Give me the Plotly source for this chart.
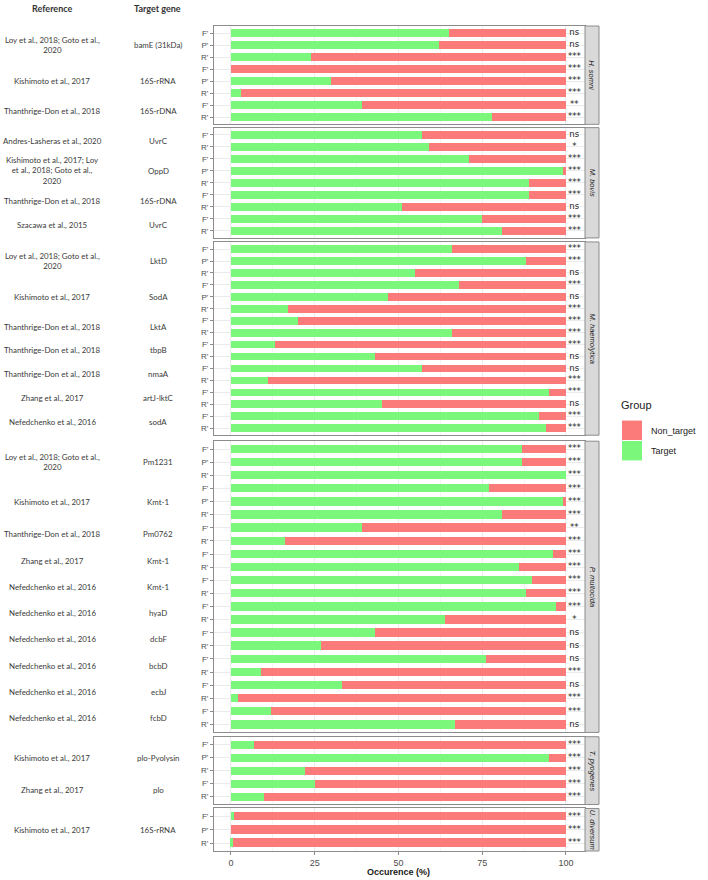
import plotly.graph_objects as go

# ---------------- data ----------------
species = ["H. somni", "M. bovis", "M. haemolytica", "P. multocida", "T. pyogenes", "U. diversum"]

group_species = [0, 0, 0,
                 1, 1, 1, 1,
                 2, 2, 2, 2, 2, 2, 2,
                 3, 3, 3, 3, 3, 3, 3, 3, 3, 3,
                 4, 4,
                 5]

group_reference = [
    "Loy et al., 2018; Goto et al.,<br>2020", "Kishimoto et al., 2017", "Thanthrige-Don et al., 2018",
    "Andres-Lasheras et al., 2020", "Kishimoto et al., 2017; Loy<br>et al., 2018; Goto et al.,<br>2020",
    "Thanthrige-Don et al., 2018", "Szacawa et al., 2015",
    "Loy et al., 2018; Goto et al.,<br>2020", "Kishimoto et al., 2017", "Thanthrige-Don et al., 2018",
    "Thanthrige-Don et al., 2018", "Thanthrige-Don et al., 2018", "Zhang et al., 2017", "Nefedchenko et al., 2016",
    "Loy et al., 2018; Goto et al.,<br>2020", "Kishimoto et al., 2017", "Thanthrige-Don et al., 2018",
    "Zhang et al., 2017", "Nefedchenko et al., 2016", "Nefedchenko et al., 2016", "Nefedchenko et al., 2016",
    "Nefedchenko et al., 2016", "Nefedchenko et al., 2016", "Nefedchenko et al., 2016",
    "Kishimoto et al., 2017", "Zhang et al., 2017",
    "Kishimoto et al., 2017",
]

group_gene = ["bamE (31kDa)", "16S-rRNA", "16S-rDNA",
              "UvrC", "OppD", "16S-rDNA", "UvrC",
              "LktD", "SodA", "LktA", "tbpB", "nmaA", "artJ-lktC", "sodA",
              "Pm1231", "Kmt-1", "Pm0762", "Kmt-1", "Kmt-1", "hyaD", "dcbF", "bcbD", "ecbJ", "fcbD",
              "plo-Pyolysin", "plo",
              "16S-rRNA"]

FPR = ["F'", "P'", "R'"]
FR = ["F'", "R'"]
group_primers = [FPR, FPR, FR,
                 FR, FPR, FR, FR,
                 FPR, FPR, FR, FR, FR, FR, FR,
                 FPR, FPR, FR, FR, FR, FR, FR, FR, FR, FR,
                 FPR, FR,
                 FPR]

# Target occurrence (%) per primer; Non_target = 100 - Target
target_pct = [[65, 62, 24], [0, 30, 3], [39, 78],
              [57, 59], [71, 99, 89], [89, 51], [75, 81],
              [66, 88, 55], [68, 47, 17], [20, 66], [13, 43], [57, 11], [95, 45], [92, 94],
              [87, 87, 100], [77, 99, 81], [39, 16], [96, 86], [90, 88], [97, 64], [43, 27],
              [76, 9], [33, 2], [12, 67],
              [7, 95, 22], [25, 10],
              [1, 0, 0.5]]

significance = [["ns", "ns", "***"], ["***", "***", "***"], ["**", "***"],
                ["ns", "*"], ["***", "***", "***"], ["***", "ns"], ["***", "***"],
                ["***", "***", "ns"], ["***", "ns", "***"], ["***", "***"], ["***", "ns"], ["ns", "***"],
                ["***", "ns"], ["***", "***"],
                ["***", "***", "***"], ["***", "***", "***"], ["**", "***"], ["***", "***"], ["***", "***"],
                ["***", "*"], ["ns", "ns"], ["ns", "***"], ["ns", "***"], ["***", "ns"],
                ["***", "***", "***"], ["***", "***"],
                ["***", "***", "***"]]

group_names = ["Non_target", "Target"]
x_ticks = [0, 25, 50, 75, 100]

# ---------------- styling / geometry ----------------
W, H = 708, 880
ML, MR, MT, MB = 214, 123, 26, 26
PW, PH = W - ML - MR, H - MT - MB
panel_px = [(26, 124.7), (128, 238.7), (242.7, 436.7), (442.7, 735), (739.3, 807.3), (811.3, 854)]
RED, GREEN = "#FB7B7B", "#7BF77B"
BORDER = "#8C8C8C"
TXT = "#4D4D4D"
LEFT_FONT = "Lato"


def fx(p):
    return (p - ML) / PW


def fy(p):
    return 1 - (p - MT) / PH


fig = go.Figure()
annotations = []
shapes = []
layout = {}

for si, sp in enumerate(species):
    ax = "" if si == 0 else str(si + 1)
    gidx = [g for g in range(len(group_species)) if group_species[g] == si]
    prim, tgt, sig = [], [], []
    centers = []
    for g in gidx:
        start = len(prim)
        prim += group_primers[g]
        tgt += target_pct[g]
        sig += significance[g]
        centers.append((g, (start + len(prim) - 1) / 2))
    n = len(prim)
    ys = list(range(n))
    non = [100 - v for v in tgt]

    fig.add_trace(go.Bar(x=tgt, y=ys, base=[0] * n, orientation="h", marker_color=GREEN,
                         marker_line_width=0, width=0.64, name=group_names[1], showlegend=False,
                         xaxis="x" + ax, yaxis="y" + ax))
    fig.add_trace(go.Bar(x=non, y=ys, base=tgt, orientation="h", marker_color=RED,
                         marker_line_width=0, width=0.64, name=group_names[0], showlegend=False,
                         xaxis="x" + ax, yaxis="y" + ax))
    fig.add_trace(go.Scatter(x=[102.5] * n, y=ys, mode="text", text=sig,
                             textfont=dict(size=8.5, color="#1A1A1A", family="DejaVu Sans"),
                             showlegend=False, hoverinfo="skip",
                             xaxis="x" + ax, yaxis="y" + ax))

    top, bot = panel_px[si]
    last = si == len(species) - 1
    layout["xaxis" + ax] = dict(
        domain=[0, 1], anchor="y" + ax, range=[-5.07, 105.7],
        tickvals=x_ticks, showticklabels=last, ticks="outside" if last else "",
        ticklen=3, tickcolor=BORDER, tickfont=dict(size=9, color=TXT, family="Liberation Sans"),
        showgrid=True, gridcolor="#EBEBEB", gridwidth=1, zeroline=False,
        minor=dict(tickvals=[12.5, 37.5, 62.5, 87.5], showgrid=True, gridcolor="#F4F4F4"),
        showline=True, mirror=True, linecolor=BORDER, linewidth=1, fixedrange=True,
    )
    layout["yaxis" + ax] = dict(
        domain=[fy(bot), fy(top)], anchor="x" + ax, range=[n - 1 + 0.6, -0.6],
        tickvals=ys, ticktext=prim, ticks="outside", ticklen=3, tickcolor=BORDER,
        tickfont=dict(size=8, color=TXT, family="Liberation Sans"),
        showgrid=True, gridcolor="#EBEBEB", zeroline=False,
        showline=True, mirror=True, linecolor=BORDER, linewidth=1, fixedrange=True,
    )

    # strip on the right
    shapes.append(dict(type="rect", xref="paper", yref="paper", x0=1.0, x1=fx(599),
                       y0=fy(bot), y1=fy(top), fillcolor="#D9D9D9", line=dict(color=BORDER, width=1)))
    annotations.append(dict(xref="paper", yref="paper", x=(1.0 + fx(599)) / 2, y=(fy(bot) + fy(top)) / 2,
                            text="<i>" + sp + "</i>", textangle=90, showarrow=False,
                            font=dict(size=7.5, color="#1A1A1A", family="Liberation Sans"),
                            xanchor="center", yanchor="middle"))

    # left side text (reference, gene)
    for g, c in centers:
        annotations.append(dict(xref="paper", yref="y" + ax, x=fx(52), y=c,
                                text=group_reference[g], showarrow=False, align="center",
                                font=dict(size=7.9, color="#3A3A3A", family=LEFT_FONT),
                                xanchor="center", yanchor="middle"))
        annotations.append(dict(xref="paper", yref="y" + ax, x=fx(158), y=c,
                                text=group_gene[g], showarrow=False, align="center",
                                font=dict(size=7.9, color="#3A3A3A", family=LEFT_FONT),
                                xanchor="center", yanchor="middle"))

# headers
annotations.append(dict(xref="paper", yref="paper", x=fx(52), y=fy(8), text="<b>Reference</b>",
                        showarrow=False, font=dict(size=9, color="#333333", family=LEFT_FONT),
                        xanchor="center", yanchor="middle"))
annotations.append(dict(xref="paper", yref="paper", x=fx(157), y=fy(8), text="<b>Target gene</b>",
                        showarrow=False, font=dict(size=9, color="#333333", family=LEFT_FONT),
                        xanchor="center", yanchor="middle"))
# x-axis title
annotations.append(dict(xref="paper", yref="paper", x=fx((231 + 566) / 2), y=fy(875),
                        text="<b>Occurence (%)</b>", showarrow=False,
                        font=dict(size=9, color="#1A1A1A", family="Liberation Sans"),
                        xanchor="center", yanchor="middle"))

# manual legend (ggplot style)
annotations.append(dict(xref="paper", yref="paper", x=fx(619), y=fy(406), text="Group",
                        showarrow=False, font=dict(size=11, color="#1A1A1A", family="Liberation Sans"),
                        xanchor="left", yanchor="middle"))
for k, (name, col) in enumerate([(group_names[0], RED), (group_names[1], GREEN)]):
    t = 422 + k * 20.5
    shapes.append(dict(type="rect", xref="paper", yref="paper", x0=fx(622), x1=fx(642),
                       y0=fy(t + 19.5), y1=fy(t), fillcolor=col, line=dict(width=0)))
    annotations.append(dict(xref="paper", yref="paper", x=fx(649), y=fy(t + 10), text=name,
                            showarrow=False, font=dict(size=9, color="#1A1A1A", family="Liberation Sans"),
                            xanchor="left", yanchor="middle"))

fig.update_layout(
    width=W, height=H, margin=dict(l=ML, r=MR, t=MT, b=MB),
    paper_bgcolor="white", plot_bgcolor="white",
    barmode="overlay", showlegend=False, bargap=0,
    annotations=annotations, shapes=shapes, **layout,
)

fig.write_html("out.html", config={"displayModeBar": False},
               post_script="document.body.style.margin='0px';document.body.style.overflow='hidden';")
